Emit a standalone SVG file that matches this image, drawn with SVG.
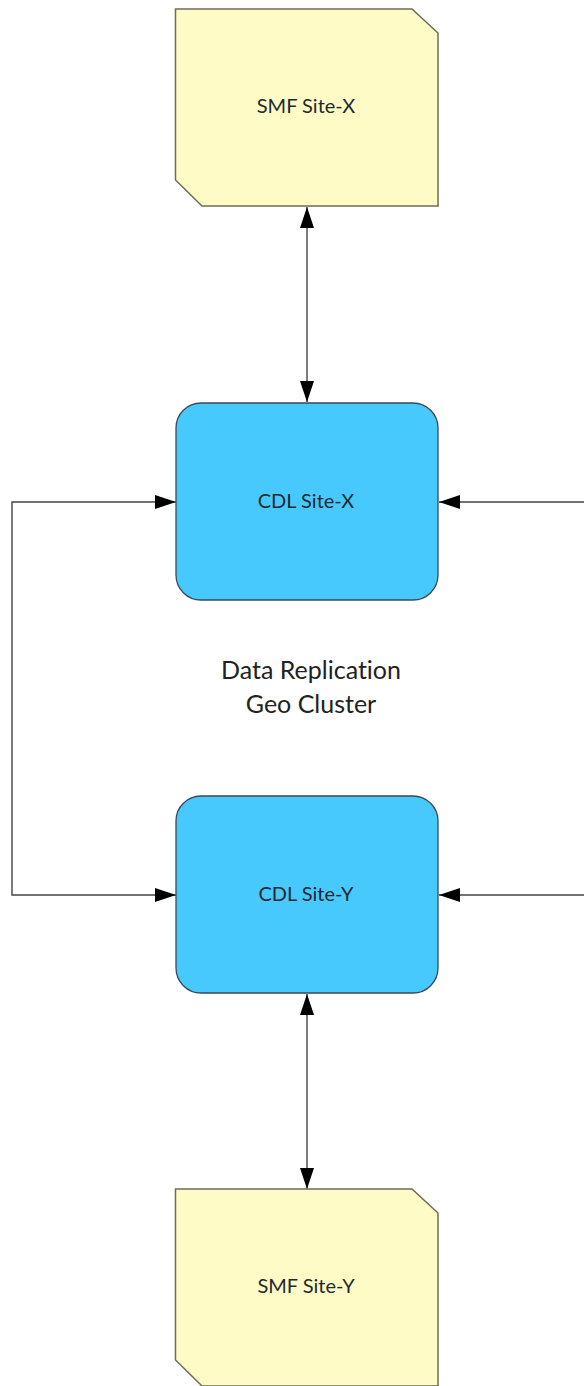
<svg xmlns="http://www.w3.org/2000/svg" width="584" height="1386" viewBox="0 0 584 1386">
<style>
.smf{fill:#fffbc6;stroke:#6e6c55;stroke-width:1.5}
.cdl{fill:#47c9fe;stroke:#3a4a55;stroke-width:1.3}
.lbl{font-family:Lato,"Open Sans","Liberation Sans",sans-serif;font-size:20px;fill:#1e2a30;text-anchor:middle;font-variant-ligatures:none}
.big{font-family:Lato,"Open Sans","Liberation Sans",sans-serif;font-size:25px;fill:#222;text-anchor:middle;font-variant-ligatures:none}
.ln{fill:none;stroke:#444;stroke-width:1.4}
</style>
<defs>
<marker id="ah" viewBox="0 0 21 14" refX="21" refY="7" markerWidth="21" markerHeight="14" markerUnits="userSpaceOnUse" orient="auto-start-reverse">
<path d="M0,0 L21,7 L0,14 Z" fill="#000"/>
</marker>
</defs>
<rect width="584" height="1386" fill="#ffffff"/>
<g id="connectors">
<line class="ln" x1="307" y1="207" x2="307" y2="402" marker-start="url(#ah)" marker-end="url(#ah)"/>
<line class="ln" x1="307" y1="994" x2="307" y2="1189" marker-start="url(#ah)" marker-end="url(#ah)"/>
<polyline class="ln" points="176,895 12,895 12,502 176,502" marker-start="url(#ah)" marker-end="url(#ah)"/>
<line class="ln" x1="585" y1="502" x2="439" y2="502" marker-end="url(#ah)"/>
<line class="ln" x1="585" y1="895" x2="439" y2="895" marker-end="url(#ah)"/>
</g>
<g id="smf-x">
<path class="smf" d="M175.5,9 L412,9 L438,33 L438,206 L202,206 L175.5,180 Z"/>
<text class="lbl" x="306" y="113">SMF Site-X</text>
</g>
<g id="cdl-x">
<rect class="cdl" x="176" y="403" width="262" height="197" rx="25" ry="25"/>
<text class="lbl" x="306" y="508">CDL Site-X</text>
</g>
<g id="label">
<text class="big" x="311" y="679">Data Replication</text>
<text class="big" x="311" y="713">Geo Cluster</text>
</g>
<g id="cdl-y">
<rect class="cdl" x="176" y="796" width="262" height="197" rx="25" ry="25"/>
<text class="lbl" x="306" y="901">CDL Site-Y</text>
</g>
<g id="smf-y">
<path class="smf" d="M175.5,1189 L412,1189 L438,1213 L438,1386 L202,1386 L175.5,1360 Z"/>
<text class="lbl" x="306" y="1293">SMF Site-Y</text>
</g>
</svg>
